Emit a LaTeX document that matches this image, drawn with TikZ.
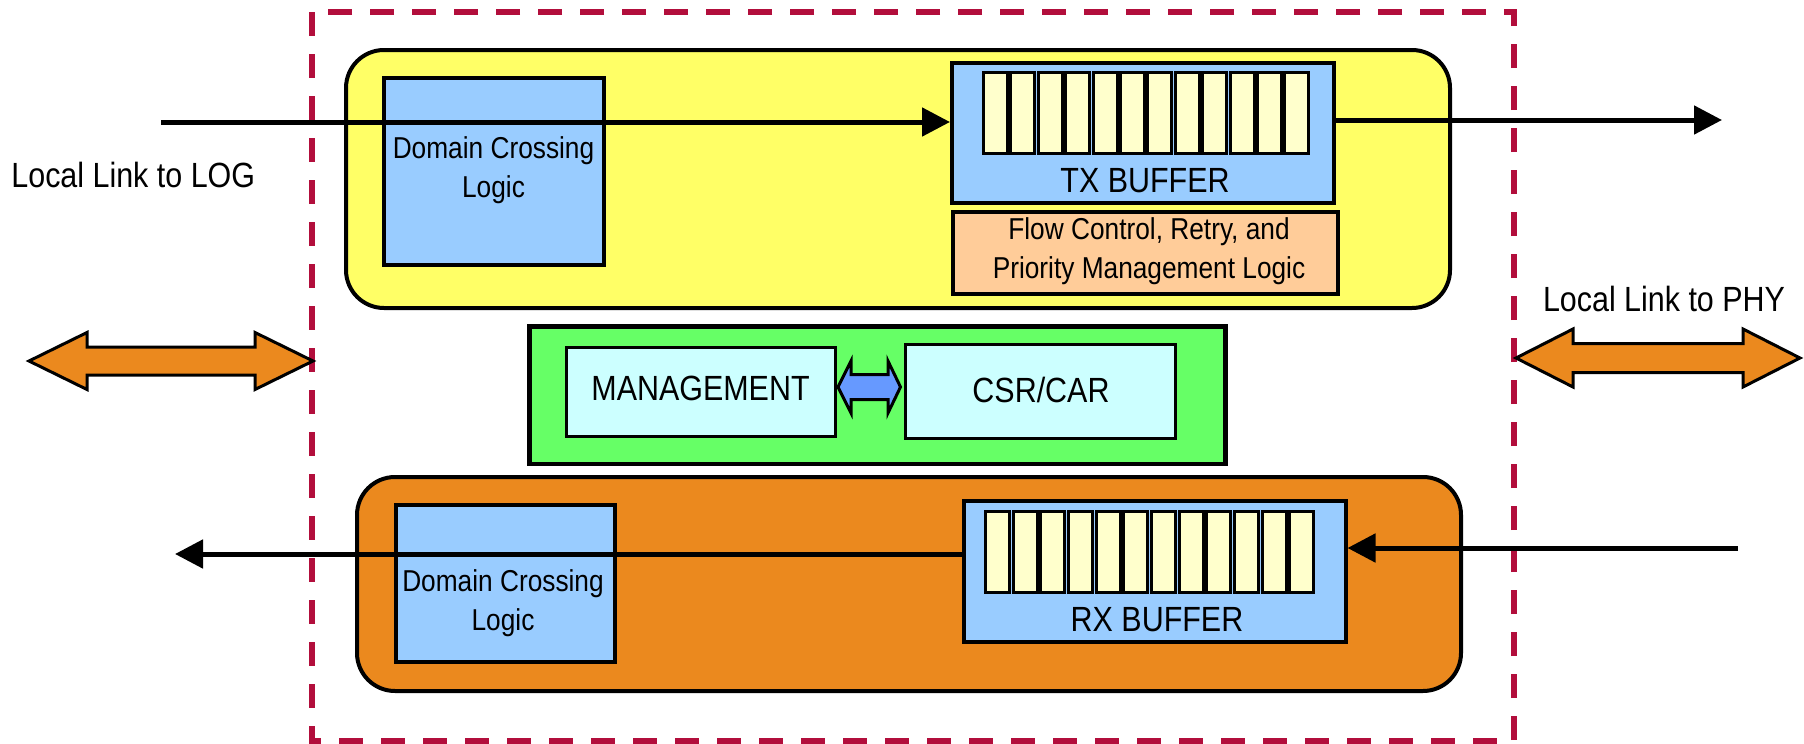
\documentclass[tikz,border=0pt]{standalone}
\usepackage{fontspec}
\setmainfont{Liberation Sans}[FakeStretch=0.87]
\usetikzlibrary{fit,arrows.meta}

\definecolor{frameRed}{RGB}{178,14,60}
\definecolor{txYellow}{RGB}{255,255,102}
\definecolor{rxOrange}{RGB}{235,137,30}
\definecolor{logicBlue}{RGB}{153,204,255}
\definecolor{cellCream}{RGB}{255,255,204}
\definecolor{peach}{RGB}{255,204,153}
\definecolor{mgmtGreen}{RGB}{102,255,102}
\definecolor{paleCyan}{RGB}{204,255,255}
\definecolor{linkBlue}{RGB}{102,153,255}

\tikzset{
  blk/.style={draw=black, line width=2pt, inner sep=0pt},
  pathbox/.style={blk, rounded corners=19pt},
  cellbox/.style={draw=black, line width=1.5pt, fill=cellCream, inner sep=0pt,
                  minimum width=12pt, minimum height=40.5pt},
  bigtext/.style={inner sep=0pt, font={\fontsize{17.5pt}{20pt}\selectfont}},
  smalltext/.style={inner sep=0pt, align=center, font={\fontsize{15.1pt}{19.3pt}\selectfont}},
  flowline/.style={line width=2.5pt, -{Triangle[length=14pt,width=14pt]}},
  fatarrow/.style={draw=black, line width=1.5pt, line join=miter},
  boundary/.style={draw=frameRed, line width=2.75pt, dash pattern=on 12pt off 9pt}
}

\begin{document}
\begin{tikzpicture}[x=0.5pt, y=-0.5pt]
  \useasboundingbox (0,0) rectangle (1804,744);

  % core boundary
  \draw[boundary] (312,12) rectangle (1514,741);

  % transmit path
  \node[pathbox, fill=txYellow, fit={(346,50) (1450,308)}] (txpath) {};
  \node[blk, fill=logicBlue, fit={(383.5,77.5) (603.5,264.5)}] (dclTx) {};
  \node[smalltext, anchor=base] (dclTxText) at (493.5,197) {Domain Crossing\\Logic};
  \node[blk, fill=logicBlue, fit={(952,63) (1334,203)}] (txbuf) {};
  \foreach \i in {0,...,11}
    \node[cellbox] (txc\i) at ({995.5+27.4*\i},112.5) {};
  \node[bigtext, anchor=base] (txbufText) at (1145,192) {TX BUFFER};
  \node[blk, fill=peach, fit={(953,212) (1338,294)}] (flow) {};
  \node[smalltext, anchor=base] (flowText) at (1149,278) {Flow Control, Retry, and\\Priority Management Logic};

  % management block
  \node[blk, line width=2.25pt, fill=mgmtGreen, fit={(529.5,326.5) (1225.5,464)}] (mgmtblk) {};
  \node[blk, line width=1.5pt, fill=paleCyan, fit={(566,347) (835,436)}] (mgmt) {};
  \node[bigtext, anchor=base] (mgmtText) at (700.5,400.7) {MANAGEMENT};
  \node[blk, line width=1.5pt, fill=paleCyan, fit={(905.5,344) (1175,438)}] (csr) {};
  \node[bigtext, anchor=base] (csrText) at (1041,402.7) {CSR/CAR};
  \draw[fatarrow, fill=linkBlue]
    (838,387) -- (851,361) -- (851,374.5) -- (888,374.5) -- (888,361) -- (900.5,387)
    -- (888,413) -- (888,399.5) -- (851,399.5) -- (851,413) -- cycle;

  % receive path
  \node[pathbox, fill=rxOrange, fit={(357,477) (1461,691)}] (rxpath) {};
  \node[blk, fill=logicBlue, fit={(395.5,505) (615,662)}] (dclRx) {};
  \node[smalltext, anchor=base] (dclRxText) at (503,630) {Domain Crossing\\Logic};
  \node[blk, fill=logicBlue, fit={(963.5,501) (1345.5,642)}] (rxbuf) {};
  \foreach \i in {0,...,11}
    \node[cellbox] (rxc\i) at ({997.5+27.67*\i},551.5) {};
  \node[bigtext, anchor=base] (rxbufText) at (1157,631.7) {RX BUFFER};

  % data flow
  \coordinate (logIn) at (161,122);
  \coordinate (phyOut) at (1722,120);
  \coordinate (phyIn) at (1738,548);
  \coordinate (logOut) at (175,554);
  \draw[flowline] (logIn) -- (logIn -| txbuf.west);
  \draw[flowline] (txbuf.east |- phyOut) -- (phyOut);
  \draw[flowline] (phyIn) -- (phyIn -| rxbuf.east);
  \draw[flowline] (rxbuf.west |- logOut) -- (logOut);

  % local link interfaces
  \draw[fatarrow, fill=rxOrange]
    (29,361) -- (87,332.5) -- (87,347) -- (255,347) -- (255,332.5) -- (313,361)
    -- (255,389.5) -- (255,375) -- (87,375) -- (87,389.5) -- cycle;
  \draw[fatarrow, fill=rxOrange]
    (1516,358) -- (1573,329) -- (1573,343.5) -- (1743,343.5) -- (1743,329) -- (1800,358)
    -- (1743,387) -- (1743,372.5) -- (1573,372.5) -- (1573,387) -- cycle;
  \node[bigtext, anchor=base west] (logLabel) at (11,187.5) {Local Link to LOG};
  \node[bigtext, anchor=base] (phyLabel) at (1664,311.7) {Local Link to PHY};
\end{tikzpicture}
\end{document}
